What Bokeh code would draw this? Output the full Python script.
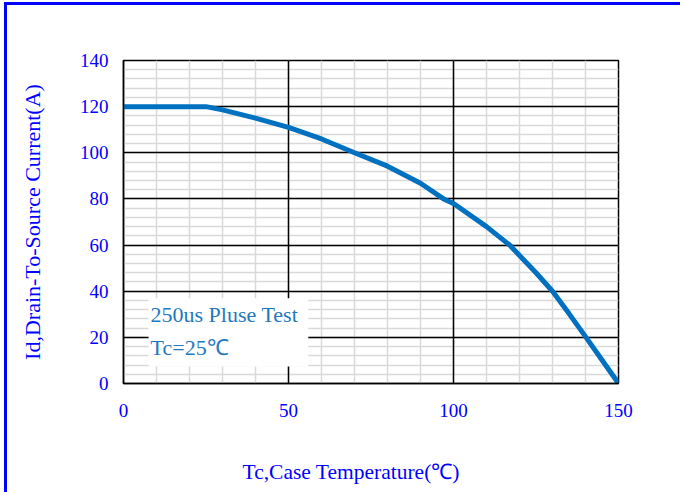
from bokeh.plotting import figure
from bokeh.models import Range1d, SingleIntervalTicker, FixedTicker, Grid, LinearAxis
from bokeh.core.properties import value
from bokeh.embed import file_html
from bokeh.resources import INLINE

# data
temps = [0, 25, 30, 40, 50, 60, 70, 80, 90, 97, 100, 110, 117, 125, 130, 135, 140, 145, 150]
current = [120, 120, 118.6, 115, 111, 106, 100, 94.2, 86.8, 80, 78, 68, 60, 48, 40, 30.3, 20.3, 10.2, 0]
x_ticks_interval = 50
y_ticks_interval = 20
note_lines = ["250us Pluse Test", "Tc=25℃"]
x_title = "Tc,Case Temperature(℃)"
y_title = "Id,Drain-To-Source Current(A)"
x_title_at = 69  # x value under the centre of the x title

SERIF = "Liberation Serif"
BLUE = "#0000ff"

p = figure(width=676, height=490, output_backend="svg", toolbar_location=None,
           x_range=Range1d(0, 150), y_range=Range1d(0, 140),
           min_border_left=116, min_border_right=65, min_border_top=55, min_border_bottom=112)
p.styles = {"border-left": "3px solid #0000ff", "border-top": "3px solid #0000ff",
            "margin-left": "4px", "margin-top": "2px"}

xt = SingleIntervalTicker(interval=x_ticks_interval, num_minor_ticks=5)
yt = SingleIntervalTicker(interval=y_ticks_interval, num_minor_ticks=5)
p.xaxis.ticker = xt
p.yaxis.ticker = yt

for ax in (p.xaxis, p.yaxis):
    ax.major_tick_out = 0
    ax.major_tick_in = 0
    ax.minor_tick_out = 0
    ax.minor_tick_in = 0
    ax.axis_line_color = "black"
    ax.axis_line_width = 1.5
    ax.major_label_text_font = SERIF
    ax.major_label_text_font_size = "19px"
    ax.major_label_text_color = BLUE

p.xaxis.major_label_standoff = 20
p.yaxis.major_label_standoff = 15

p.yaxis.axis_label = y_title
p.yaxis.axis_label_text_font = SERIF
p.yaxis.axis_label_text_font_style = "normal"
p.yaxis.axis_label_text_font_size = "22px"
p.yaxis.axis_label_text_color = BLUE
p.yaxis.axis_label_standoff = 32

# second bottom axis whose single tick label is the x title
title_axis = LinearAxis(ticker=FixedTicker(ticks=[x_title_at]), axis_line_color=None,
                        major_tick_line_color=None, minor_tick_line_color=None,
                        major_label_overrides={x_title_at: x_title},
                        major_label_text_font=SERIF, major_label_text_font_size="21.5px",
                        major_label_text_color=BLUE, major_label_standoff=34)
p.add_layout(title_axis, "below")

# minor grid first (light gray), major grid lines on top (black)
for g in (p.xgrid, p.ygrid):
    g.grid_line_color = None
    g.minor_grid_line_color = "#d9d9d9"
    g.minor_grid_line_width = 1.5
p.add_layout(Grid(dimension=0, ticker=xt, grid_line_color="black", grid_line_width=1.5), "center")
p.add_layout(Grid(dimension=1, ticker=yt, grid_line_color="black", grid_line_width=1.5), "center")

p.outline_line_color = "black"
p.outline_line_width = 1.5

# white box behind the note
p.quad(left=[7.6], right=[56], bottom=[7.4], top=[37], fill_color="white", line_color=None)

p.line(temps, current, line_width=5, line_color="#0070c0")

p.text(x=[8.2, 8.2], y=[30, 15.7], text=note_lines, text_font=value(SERIF),
       text_font_size="22px", text_color="#1f78c1", text_baseline="middle", text_align="left")

open("out.html", "w").write(file_html(p, INLINE))
